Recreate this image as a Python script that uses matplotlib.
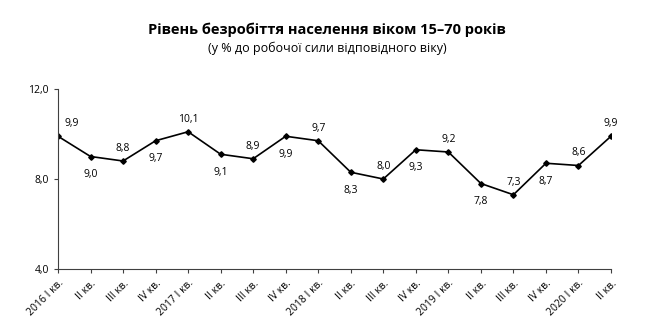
import matplotlib
matplotlib.use("Agg")
import matplotlib.pyplot as plt

plt.rcParams['font.family'] = ['Open Sans', 'DejaVu Sans']

quarters = ["2016 I кв.", "II кв.", "III кв.", "IV кв.",
            "2017 I кв.", "II кв.", "III кв.", "IV кв.",
            "2018 I кв.", "II кв.", "III кв.", "IV кв.",
            "2019 I кв.", "II кв.", "III кв.", "IV кв.",
            "2020 I кв.", "II кв."]
rate = [9.9, 9.0, 8.8, 9.7, 10.1, 9.1, 8.9, 9.9, 9.7, 8.3,
        8.0, 9.3, 9.2, 7.8, 7.3, 8.7, 8.6, 9.9]
# label placement: 1 = above, -1 = below
label_side = [1, -1, 1, -1, 1, -1, 1, -1, 1, -1,
              1, -1, 1, -1, 1, -1, 1, 1]

fig = plt.figure(figsize=(6.54, 3.29), dpi=100)
ax = fig.add_axes([58/654, 1-269/329, (611-58)/654, (269-89)/329])

x = list(range(len(rate)))
ax.plot(x, rate, color="black", linewidth=1.2, marker="D", markersize=2.8)

for i, (v, s) in enumerate(zip(rate, label_side)):
    txt = f"{v:.1f}".replace(".", ",")
    dx = 10 if i == 0 else 0
    dy = 9 if s > 0 else -13
    ax.annotate(txt, (i, v), xytext=(dx, dy), textcoords="offset points",
                ha="center", va="center", fontsize=7.5)

ax.set_xlim(0, len(rate) - 1)
ax.set_ylim(4, 12)
ax.set_yticks([4, 8, 12])
ax.set_yticklabels(["4,0", "8,0", "12,0"], fontsize=7.5)
ax.set_xticks(x)
ax.set_xticklabels(quarters, rotation=45, ha="right", rotation_mode="anchor",
                   fontsize=7.5)
ax.tick_params(axis="both", length=3, width=0.8, color="#404040")
ax.spines["top"].set_visible(False)
ax.spines["right"].set_visible(False)
ax.spines["left"].set_color("#404040")
ax.spines["bottom"].set_color("#404040")

fig.text(0.5, 1-30/329, "Рівень безробіття населення віком 15–70 років",
         ha="center", va="center", fontsize=10.5, fontweight="bold")
fig.text(0.5, 1-48/329, "(у % до робочої сили відповідного віку)",
         ha="center", va="center", fontsize=9)

fig.savefig("out.png", dpi=100)
